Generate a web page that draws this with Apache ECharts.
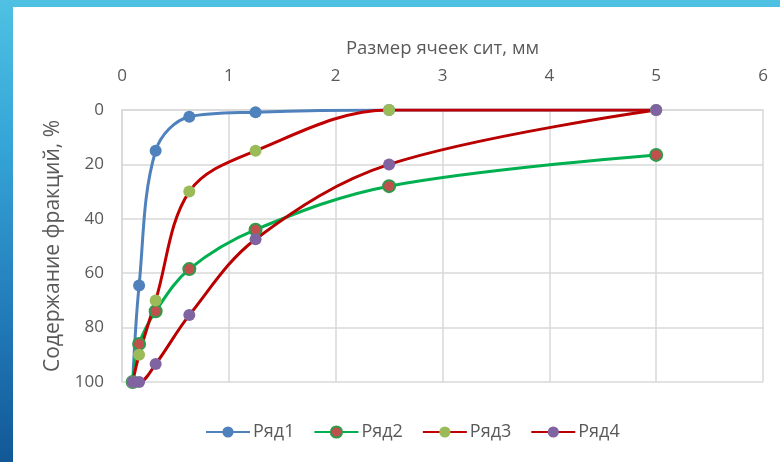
<!DOCTYPE html>
<html>
<head>
<meta charset="utf-8">
<script src="https://cdn.jsdelivr.net/npm/echarts@6/dist/echarts.min.js"></script>
<style>
  html, body { margin: 0; padding: 0; }
  #chart { width: 780px; height: 462px; }
</style>
</head>
<body>
<div id="chart"></div>
<script>
// Sieve mesh sizes, mm
const sieveSizes = [0.1, 0.16, 0.315, 0.63, 1.25, 2.5, 5];
// Fraction content, % for each sample
const row1 = [100, 64.5, 15, 2.5, 0.8, 0, 0];
const row2 = [100, 86, 74, 58.5, 44, 28, 16.5];
const row3 = [100, 90, 70, 30, 15, 0, 0];
const row4 = [100, 100, 93.4, 75.4, 47.5, 20, 0];
const seriesNames = ['Ряд1', 'Ряд2', 'Ряд3', 'Ряд4'];
const xTicks = [0, 6, 1];
const yTicks = [0, 100, 20];

const FONT = '"Open Sans", sans-serif';
const TXT = '#595959';
const GRID = '#d9d9d9';

function pairs(vals) {
  return sieveSizes.map((s, i) => [s, vals[i]]);
}

function lineSeries(name, vals, lineColor, fill, border) {
  return {
    name: name,
    type: 'line',
    data: pairs(vals),
    smooth: 0.35,
    symbol: 'circle',
    symbolSize: 12,
    showSymbol: true,
    lineStyle: { color: lineColor, width: 3 },
    itemStyle: { color: fill, borderColor: border || fill, borderWidth: border ? 2 : 0 },
    emphasis: { disabled: true },
    z: 2
  };
}

const chart = echarts.init(document.getElementById('chart'));
chart.setOption({
  animation: false,
  graphic: [
    {
      // blue frame behind the white card
      type: 'rect', silent: true, z: -10,
      shape: { x: 0, y: 0, width: 780, height: 462 },
      style: {
        fill: new echarts.graphic.LinearGradient(0, 0, 0, 1, [
          { offset: 0, color: '#4fc1e3' },
          { offset: 0.3, color: '#36a6d8' },
          { offset: 0.7, color: '#2179b8' },
          { offset: 1, color: '#125896' }
        ])
      }
    },
    {
      type: 'rect', silent: true, z: -9,
      shape: { x: 13, y: 7, width: 767, height: 455 },
      style: { fill: '#ffffff' }
    }
  ],
  grid: { left: 122, right: 17, top: 110, bottom: 80 },
  xAxis: {
    type: 'value',
    position: 'top',
    min: xTicks[0], max: xTicks[1], interval: xTicks[2],
    name: 'Размер ячеек сит, мм',
    nameLocation: 'middle',
    nameGap: 52,
    nameTextStyle: { color: TXT, fontSize: 18.5, fontFamily: FONT },
    axisLine: { show: true, lineStyle: { color: GRID, width: 1.5 } },
    axisTick: { show: false },
    axisLabel: { color: TXT, fontSize: 17, fontFamily: FONT, margin: 25 },
    splitLine: { show: true, lineStyle: { color: GRID, width: 1.5 } }
  },
  yAxis: {
    type: 'value',
    inverse: true,
    min: yTicks[0], max: yTicks[1], interval: yTicks[2],
    name: 'Содержание фракций, %',
    nameLocation: 'middle',
    nameGap: 58,
    nameTextStyle: { color: TXT, fontSize: 21, fontFamily: FONT },
    axisLine: { show: true, lineStyle: { color: GRID, width: 1.5 } },
    axisTick: { show: false },
    axisLabel: { color: TXT, fontSize: 17, fontFamily: FONT, margin: 18 },
    splitLine: { show: true, lineStyle: { color: GRID, width: 1.5 } }
  },
  legend: {
    bottom: 16,
    left: 200,
    itemWidth: 44,
    itemHeight: 14,
    itemGap: 19,
    textStyle: { color: TXT, fontSize: 18, fontFamily: FONT, padding: [0, 0, 0, -2] },
    data: seriesNames
  },
  series: [
    lineSeries(seriesNames[0], row1, '#4f81bd', '#4f81bd'),
    lineSeries(seriesNames[1], row2, '#00b050', '#c0504d', '#2e9a4a'),
    lineSeries(seriesNames[2], row3, '#c00000', '#9bbb59'),
    lineSeries(seriesNames[3], row4, '#b80000', '#8064a2')
  ]
});
</script>
</body>
</html>
